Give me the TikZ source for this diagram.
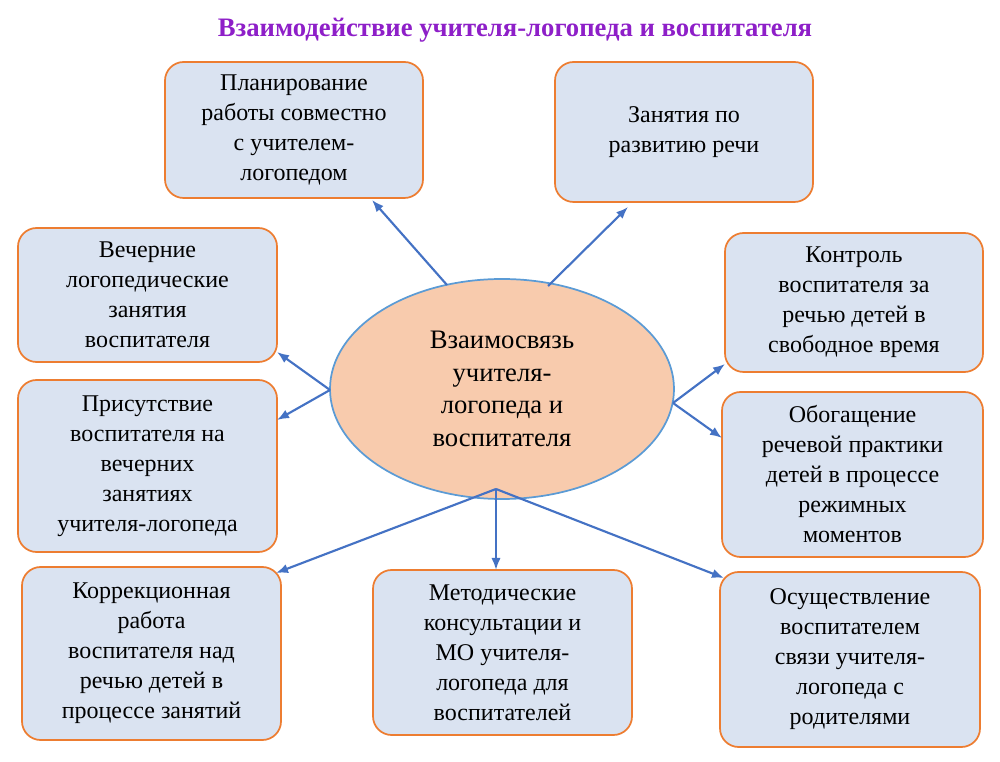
\documentclass[tikz,border=0pt]{standalone}
\usepackage{fontspec}
\setmainfont{Liberation Serif}
\usetikzlibrary{arrows.meta,shapes.geometric}
\definecolor{boxfill}{HTML}{DAE3F1}
\definecolor{boxdraw}{HTML}{ED7D31}
\definecolor{ellfill}{HTML}{F8CBAD}
\definecolor{elldraw}{HTML}{5B9BD5}
\definecolor{arr}{HTML}{4472C4}
\definecolor{ttl}{HTML}{8E1FC8}
\tikzset{
 bx/.style={draw=boxdraw,fill=boxfill,line width=1.3pt,rounded corners=14pt,align=center,font=\fontsize{18}{22.5}\selectfont,inner sep=0pt},
 ar/.style={draw=arr,line width=1.6pt,-{Latex[length=9pt,width=7pt]}}
}
\begin{document}
\begin{tikzpicture}[x=0.75pt,y=-0.75pt]
\useasboundingbox (0,0) rectangle (1000,762);
\node[font=\fontsize{20}{24}\selectfont\bfseries,text=ttl] (t) at (515,30) {Взаимодействие учителя-логопеда и воспитателя};
\newcommand\mybox[6]{\node[bx,minimum width={(#4-#2)*0.75pt},minimum height={(#5-#3)*0.75pt}] (#1) at ({(#2+#4)/2},{(#3+#5)/2}) {#6};}
\mybox{b1}{165}{62}{423}{198}{Планирование\\работы совместно\\с учителем-\\логопедом}
\mybox{b2}{555}{62}{813}{202}{Занятия по\\развитию речи}
\mybox{b3}{18}{228}{277}{362}{Вечерние\\логопедические\\занятия\\воспитателя}
\mybox{b4}{18}{380}{277}{552}{Присутствие\\воспитателя на\\вечерних\\занятиях\\учителя-логопеда}
\mybox{b5}{725}{233}{983}{372}{Контроль\\воспитателя за\\речью детей в\\свободное время}
\mybox{b6}{722}{392}{983}{557}{Обогащение\\речевой практики\\детей в процессе\\режимных\\моментов}
\mybox{b7}{22}{567}{281}{740}{Коррекционная\\работа\\воспитателя над\\речью детей в\\процессе занятий}
\mybox{b8}{373}{570}{632}{735}{Методические\\консультации и\\МО учителя-\\логопеда для\\воспитателей}
\mybox{b9}{720}{572}{980}{747}{Осуществление\\воспитателем\\связи учителя-\\логопеда с\\родителями}
\node[ellipse,draw=elldraw,fill=ellfill,line width=1.3pt,minimum width=258pt,minimum height=165pt,inner sep=0pt,align=center,font=\fontsize{20}{24.5}\selectfont] (c) at (502,389) {Взаимосвязь\\учителя-\\логопеда и\\воспитателя};
\coordinate (p1) at (447,285); \coordinate (p2) at (548,286);
\coordinate (p3) at (330,390); \coordinate (p4) at (673,403);
\coordinate (p5) at (496,489);
\coordinate (e1) at (372,200); \coordinate (e2) at (628,207);
\coordinate (e3) at (277,352); \coordinate (e4) at (277,420);
\coordinate (e5) at (725,364); \coordinate (e6) at (722,438);
\coordinate (e7) at (276,573); \coordinate (e8) at (496,570); \coordinate (e9) at (724,578);
\draw[ar] (p1)--(e1); \draw[ar] (p2)--(e2);
\draw[ar] (p3)--(e3); \draw[ar] (p3)--(e4);
\draw[ar] (p4)--(e5); \draw[ar] (p4)--(e6);
\draw[ar] (p5)--(e7); \draw[ar] (p5)--(e8); \draw[ar] (p5)--(e9);
\end{tikzpicture}
\end{document}
